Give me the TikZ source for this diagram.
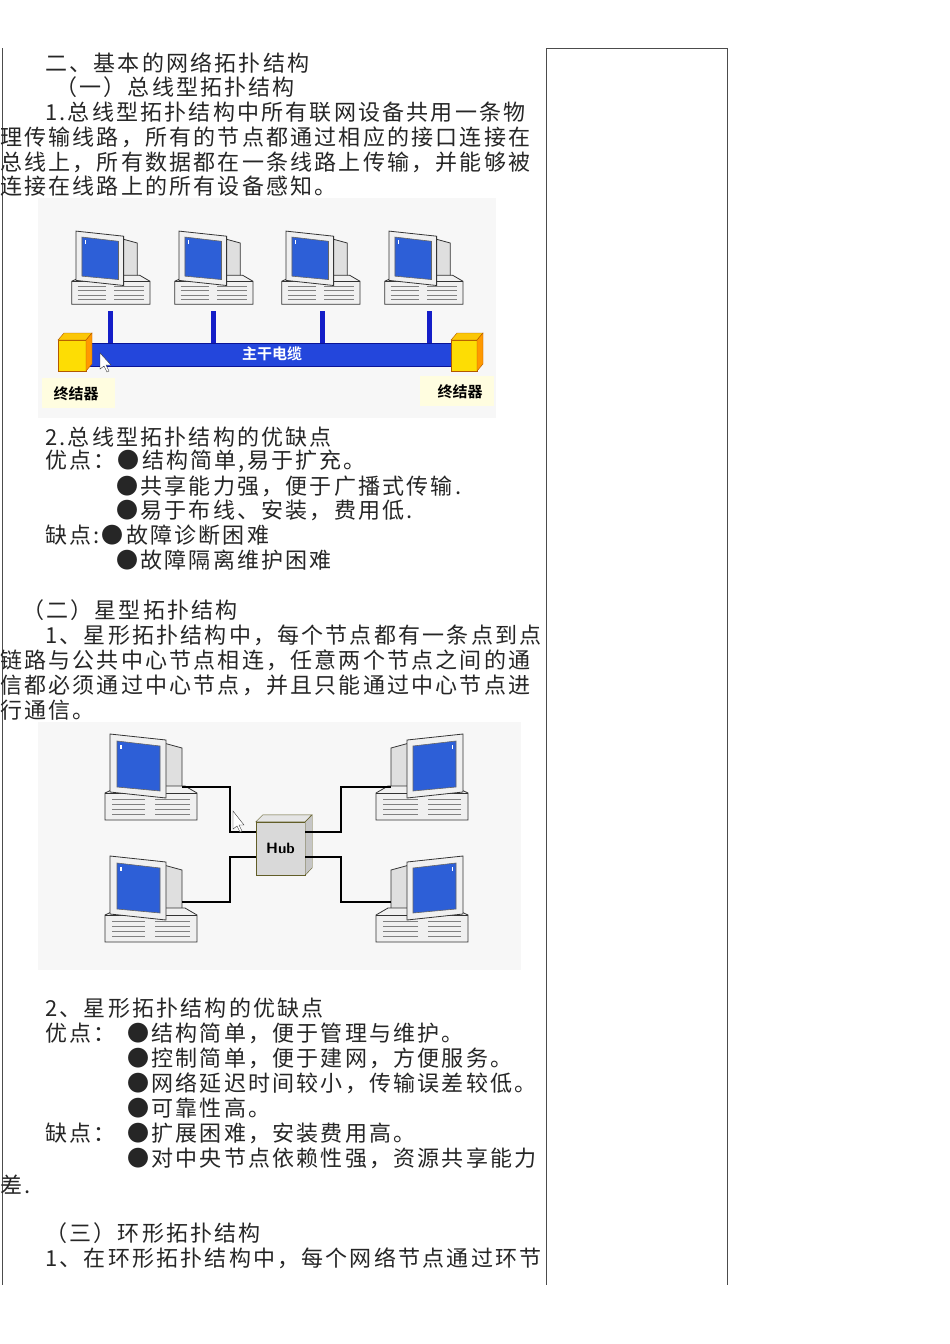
\documentclass[tikz,border=0pt]{standalone}
\usepackage{fontspec}
\newfontfamily\cjk{Noto Sans CJK SC}[LetterSpace=10]
\newfontfamily\cjkb{Noto Sans CJK SC Bold}
\definecolor{scrblue}{RGB}{45,95,215}
\definecolor{cabblue}{RGB}{20,30,200}
\definecolor{busdark}{RGB}{10,20,150}
\definecolor{busfill}{RGB}{35,70,220}
\begin{document}
\begin{tikzpicture}[x=1pt,y=-1pt,
  txt/.style={anchor=west,inner sep=0,font=\cjk\fontsize{22}{22}\selectfont,text=black!85},
  tbl/.style={draw=black!70,line width=1pt},
  mon/.style={draw=black!80,line width=0.8pt,fill=gray!12},
  scr/.style={draw=black!60,line width=0.6pt,fill=scrblue},
  wire/.style={line width=2.6pt,black},
  bcab/.style={line width=5pt,cabblue}]
\useasboundingbox (0,0) rectangle (950,1344);
\fill[white] (0,0) rectangle (950,1344);
\newcommand{\pc}[4]{% x y scale mirror
 \begin{scope}[shift={(#1,#2)},scale=#3,xscale=#4]
  \draw[mon,fill=gray!25] (-30,-90)--(10,-86)--(32,-80)--(32,-40)--(10,-34)--(-20,-36)--cycle;
  \draw[mon] (-45,-35)--(-30,-42)--(35,-42)--(47,-35)--(47,-8)--(-45,-8)--cycle;
  \draw[mon,fill=gray!30] (-45,-35)--(47,-35);
  \foreach \k in {-29,-24,-19,-14}{\draw[black!50,line width=0.4pt] (-38,\k)--(-5,\k);\draw[black!50,line width=0.4pt] (5,\k)--(40,\k);}
  \draw[mon] (-40,-94)--(16,-88)--(16,-30)--(-40,-36)--cycle;
  \draw[scr] (-33,-87)--(10,-82)--(10,-37)--(-33,-41)--cycle;
  \fill[white] (-30,-83) rectangle (-28.5,-79);
 \end{scope}}
% table lines
\draw[tbl] (2,48)--(2,1285);
\draw[tbl] (546,48)--(546,1285);
\draw[tbl] (727,48)--(727,1285);
\draw[tbl] (546,48)--(727,48);
% text
\node[txt] (t1) at (45,63) {二、基本的网络拓扑结构};
\node[txt] (t2) at (55,87) {（一）总线型拓扑结构};
\node[txt] (t3) at (45,112) {1.总线型拓扑结构中所有联网设备共用一条物};
\node[txt] (t4) at (0,137) {理传输线路，所有的节点都通过相应的接口连接在};
\node[txt] (t5) at (0,162) {总线上，所有数据都在一条线路上传输，并能够被};
\node[txt] (t6) at (0,186) {连接在线路上的所有设备感知。};
\node[txt] (t7) at (45,437) {2.总线型拓扑结构的优缺点};
\node[txt] (t8) at (45,461) {优点：●结构简单,易于扩充。};
\node[txt] (t9) at (116,486) {●共享能力强，便于广播式传输.};
\node[txt] (t10) at (116,510) {●易于布线、安装，费用低.};
\node[txt] (t11) at (45,535) {缺点:●故障诊断困难};
\node[txt] (t12) at (116,560) {●故障隔离维护困难};
\node[txt] (t13) at (22,610) {（二）星型拓扑结构};
\node[txt] (t14) at (45,635) {1、星形拓扑结构中，每个节点都有一条点到点};
\node[txt] (t15) at (0,660) {链路与公共中心节点相连，任意两个节点之间的通};
\node[txt] (t16) at (0,685) {信都必须通过中心节点，并且只能通过中心节点进};
\node[txt] (t17) at (0,710) {行通信。};
\node[txt] (t18) at (45,1008) {2、星形拓扑结构的优缺点};
\node[txt] (t19) at (45,1033) {优点：};
\node[txt] (t20) at (127,1033) {●结构简单，便于管理与维护。};
\node[txt] (t21) at (127,1058) {●控制简单，便于建网，方便服务。};
\node[txt] (t22) at (127,1083) {●网络延迟时间较小，传输误差较低。};
\node[txt] (t23) at (127,1108) {●可靠性高。};
\node[txt] (t24) at (45,1133) {缺点：};
\node[txt] (t25) at (127,1133) {●扩展困难，安装费用高。};
\node[txt] (t26) at (127,1158) {●对中央节点依赖性强，资源共享能力};
\node[txt] (t27) at (0,1185) {差.};
\node[txt] (t28) at (45,1233) {（三）环形拓扑结构};
\node[txt] (t29) at (45,1258) {1、在环形拓扑结构中，每个网络节点通过环节};
% ---------- bus image
\fill[gray!6] (38,198) rectangle (496,418);
\fill[yellow!12] (42,378) rectangle (115,408);
\fill[yellow!12] (420,376) rectangle (494,406);
\foreach \cx/\cb in {105/110,208/213,315/322,418/429}{
  \coordinate (c\cx) at (\cb,311);
  \coordinate (b\cx) at (\cb,345);
  \draw[bcab] (c\cx)--(b\cx);
  \pc{\cx+5}{311}{0.85}{1}}
\draw[draw=busdark,fill=busfill] (85,343) rectangle (452,366);
\node[font=\cjkb\fontsize{15}{15}\selectfont,text=white] (trunk) at (272,354) {主干电缆};
\draw[draw=orange!70!black,fill=yellow!80!orange] (58,340) rectangle (86,371);
\draw[draw=orange!70!black,fill=yellow!60!orange] (58,340)--(64,333)--(92,333)--(86,340)--cycle;
\draw[draw=orange!70!black,fill=orange!80!yellow] (86,340)--(92,333)--(92,364)--(86,371)--cycle;
\draw[draw=orange!70!black,fill=yellow!80!orange] (451,340) rectangle (477,371);
\draw[draw=orange!70!black,fill=yellow!60!orange] (451,340)--(457,333)--(483,333)--(477,340)--cycle;
\draw[draw=orange!70!black,fill=orange!80!yellow] (477,340)--(483,333)--(483,364)--(477,371)--cycle;
\node[font=\cjkb\fontsize{15}{15}\selectfont] (term1) at (76,394) {终结器};
\node[font=\cjkb\fontsize{15}{15}\selectfont] (term2) at (460,392) {终结器};
\draw[fill=white,draw=black!80] (100,353)--(100,369)--(104,366)--(107,372)--(109,371)--(106,365)--(111,365)--cycle;
% ---------- star image
\fill[gray!6] (38,722) rectangle (521,970);
\node[draw=olive!60!black,fill=gray!30,minimum width=49pt,minimum height=53pt,inner sep=0,font=\sffamily\bfseries\fontsize{15}{15}\selectfont] (hub) at (280.5,848.5) {Hub};
\draw[draw=olive!60!black,fill=gray!20] (hub.north west)--++(7,-7)--++(49,0)--(hub.north east)--cycle;
\draw[draw=olive!60!black,fill=gray!45] (hub.north east)--++(7,-7)--++(0,53)--(hub.south east)--cycle;
\pc{150}{828}{1.0}{1}
\pc{423}{828}{1.0}{-1}
\pc{150}{950}{1.0}{1}
\pc{423}{950}{1.0}{-1}
\coordinate (tl) at (182,787); \coordinate (bl) at (182,902);
\coordinate (tr) at (391,787); \coordinate (br) at (391,902);
\draw[wire] (tl)-|(230,832)--(hub.west|-0,832);
\draw[wire] (bl)-|(230,857)--(hub.west|-0,857);
\draw[wire] (tr)-|(341,832)--(hub.east|-0,832);
\draw[wire] (br)-|(341,857)--(hub.east|-0,857);
\draw[fill=white,draw=black!80] (233,811)--(233,829)--(237,826)--(240,832)--(242,831)--(239,825)--(244,825)--cycle;
\end{tikzpicture}
\end{document}
